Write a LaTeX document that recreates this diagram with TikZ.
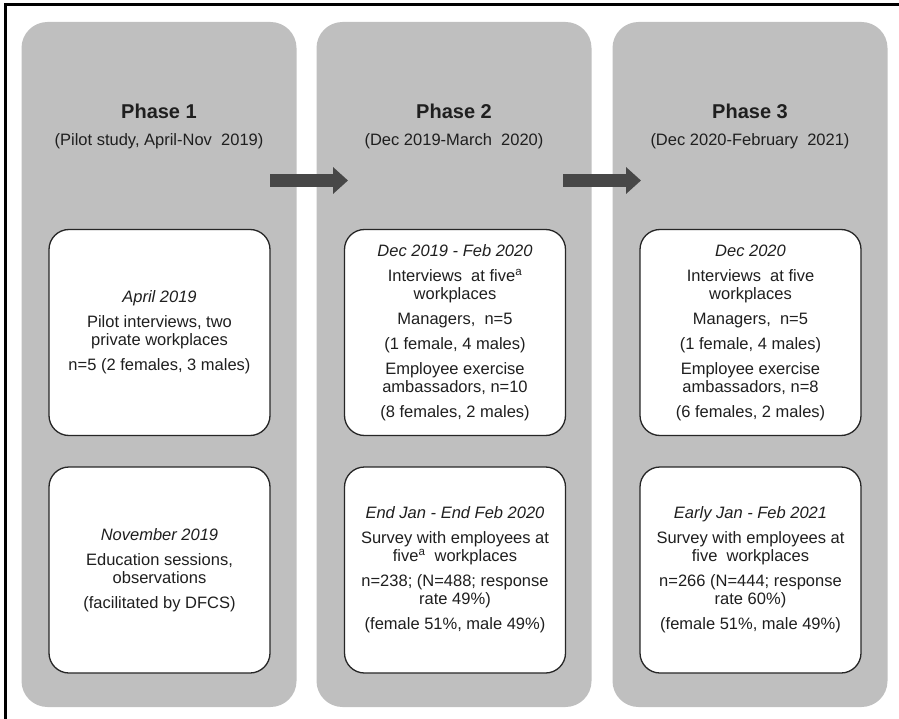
\documentclass[tikz,border=0pt]{standalone}
\usepackage{fontspec}
\setmainfont{Liberation Sans}
\usetikzlibrary{arrows.meta}
\definecolor{panelgray}{HTML}{BFBFBF}
\definecolor{arrowgray}{HTML}{474747}
\definecolor{textgray}{HTML}{1F1F1F}
\begin{document}
\begin{tikzpicture}[x=1pt,y=-1pt,
    phase/.style={rectangle, rounded corners=26pt, fill=panelgray, minimum width=275pt, minimum height=685pt, inner sep=0pt},
    infobox/.style={rectangle, rounded corners=20pt, draw=black!85, line width=1.3pt, fill=white, minimum width=221pt, minimum height=206pt, align=center, text=textgray, font=\fontsize{16.5}{18}\selectfont, inner sep=0pt},
    phasetitle/.style={anchor=base, text=textgray, font=\fontsize{20}{24}\selectfont\bfseries, inner sep=0pt},
    phasedate/.style={anchor=base, text=textgray, font=\fontsize{16.5}{18}\selectfont, inner sep=0pt},
    phasearrow/.style={-{Triangle[length=15pt,width=26pt]}, line width=13pt, arrowgray}]
    \useasboundingbox (0,0) rectangle (899,719);
    \clip (0,0) rectangle (899,719);
    \draw[line width=3pt] (5,5) rectangle (910,730);

    % phases
    \node[phase] (p1) at (159,364.5) {};
    \node[phase] (p2) at (454,364.5) {};
    \node[phase] (p3) at (750,364.5) {};

    \node[phasetitle] (t1) at (159,119) {Phase 1};
    \node[phasedate] (d1) at (159,146) {(Pilot study, April-Nov\ \ 2019)};
    \node[phasetitle] (t2) at (454,119) {Phase 2};
    \node[phasedate] (d2) at (454,146) {(Dec 2019-March\ \ 2020)};
    \node[phasetitle] (t3) at (750,119) {Phase 3};
    \node[phasedate] (d3) at (750,146) {(Dec 2020-February\ \ 2021)};

    % arrows between phases
    \coordinate (a1s) at (270,180.5);
    \coordinate (a1e) at (348,180.5);
    \coordinate (a2s) at (563,180.5);
    \coordinate (a2e) at (641,180.5);
    \draw[phasearrow] (a1s) -- (a1e);
    \draw[phasearrow] (a2s) -- (a2e);

    % interviews
    \node[infobox] (i1) at (159.5,332.5) {\textit{April 2019}\\[7pt]
      Pilot interviews, two\\ private workplaces\\[7pt]
      n=5 (2 females, 3 males)};
    \node[infobox] (i2) at (455,332.5) {\textit{Dec 2019 - Feb 2020}\\[7pt]
      Interviews\ \ at five\textsuperscript{a}\\ workplaces\\[7pt]
      Managers,\ \ n=5\\[7pt]
      (1 female, 4 males)\\[7pt]
      Employee exercise\\ ambassadors, n=10\\[7pt]
      (8 females, 2 males)};
    \node[infobox] (i3) at (750.5,332.5) {\textit{Dec 2020}\\[7pt]
      Interviews\ \ at five\\ workplaces\\[7pt]
      Managers,\ \ n=5\\[7pt]
      (1 female, 4 males)\\[7pt]
      Employee exercise\\ ambassadors, n=8\\[7pt]
      (6 females, 2 males)};

    % sessions and surveys
    \node[infobox] (s1) at (159.5,570) {\textit{November 2019}\\[7pt]
      Education sessions,\\ observations\\[7pt]
      (facilitated by DFCS)};
    \node[infobox] (s2) at (455,570) {\textit{End Jan - End Feb 2020}\\[7pt]
      Survey with employees at\\ five\textsuperscript{a}\ \ workplaces\\[7pt]
      n=238; (N=488; response\\ rate 49\%)\\[7pt]
      (female 51\%, male 49\%)};
    \node[infobox] (s3) at (750.5,570) {\textit{Early Jan - Feb 2021}\\[7pt]
      Survey with employees at\\ five\ \ workplaces\\[7pt]
      n=266 (N=444; response\\ rate 60\%)\\[7pt]
      (female 51\%, male 49\%)};
\end{tikzpicture}
\end{document}
